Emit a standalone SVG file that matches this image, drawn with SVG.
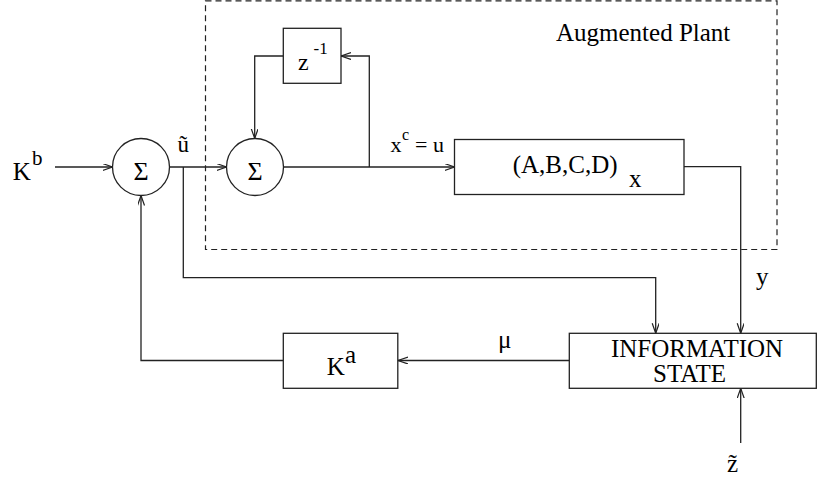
<svg xmlns="http://www.w3.org/2000/svg" width="818" height="478" viewBox="0 0 818 478">
<style>
.t{font-family:"Liberation Serif","Times New Roman",serif;fill:#000;font-size:25px}
.b{fill:#fff;stroke:#222;stroke-width:1.3}
.c{fill:none;stroke:#222;stroke-width:1.3}
.dash{fill:none;stroke:#222;stroke-width:1.2;stroke-dasharray:6 4}
</style>
<defs>
<marker id="ar" markerWidth="12" markerHeight="9" refX="10" refY="3.5" orient="auto" markerUnits="userSpaceOnUse">
<path d="M0,0 L10,3.5 L0,7" fill="none" stroke="#222" stroke-width="1.2"/>
</marker>
</defs>
<rect width="818" height="478" fill="#fff"/>
<g id="augmented-plant">
<rect class="dash" x="205.5" y="0.8" width="571.5" height="248.7"/>
<text class="t" x="556" y="41">Augmented Plant</text>
</g>
<g id="connectors" class="c" marker-end="url(#ar)">
<path d="M55,167 H112.5"/>
<path d="M169.5,167 H226.5"/>
<path d="M183.3,167 V277.7 H655.7 V333.3"/>
<path d="M283.5,167 H454.5"/>
<path d="M369.3,167 V56 H341"/>
<path d="M283.3,56 H254.7 V138.5"/>
<path d="M684,166.7 H740.7 V333.3"/>
<path d="M569.3,360.5 H398"/>
<path d="M283.3,360.5 H141 V195.5"/>
<path d="M740.7,443 V388.3"/>
</g>
<g id="kb-input">
<text class="t" x="12.7" y="180">K</text>
<text class="t" x="32" y="165" style="font-size:21px">b</text>
</g>
<g id="sum1">
<circle class="b" cx="141" cy="167" r="28.5"/>
<text class="t" x="141" y="180" text-anchor="middle" style="font-size:26px">Σ</text>
</g>
<g id="u-tilde-label">
<text class="t" x="177.5" y="152" style="font-size:23px">ũ</text>
</g>
<g id="sum2">
<circle class="b" cx="255" cy="167" r="28.5"/>
<text class="t" x="255" y="180" text-anchor="middle" style="font-size:26px">Σ</text>
</g>
<g id="delay">
<rect class="b" x="283.3" y="28.3" width="57.7" height="55"/>
<text class="t" x="298" y="70" style="font-size:24px">z</text>
<text class="t" x="313.5" y="53.5" style="font-size:17px">-1</text>
</g>
<g id="xc-label">
<text class="t" x="390.5" y="152" style="font-size:22px">x</text>
<text class="t" x="402" y="140" style="font-size:16px">c</text>
<text class="t" x="415" y="152" style="font-size:22px">= u</text>
</g>
<g id="plant">
<rect class="b" x="454.5" y="139.5" width="229.5" height="55"/>
<text class="t" x="512.7" y="172.5">(A,B,C,D)</text>
<text class="t" x="629" y="187">x</text>
</g>
<g id="y-label">
<text class="t" x="756" y="285">y</text>
</g>
<g id="info-state">
<rect class="b" x="569.3" y="333.3" width="247" height="55"/>
<text class="t" x="697" y="356.7" text-anchor="middle">INFORMATION</text>
<text class="t" x="689.5" y="381.7" text-anchor="middle">STATE</text>
</g>
<g id="mu-label">
<text class="t" x="498" y="348">μ</text>
</g>
<g id="ka">
<rect class="b" x="283.3" y="333.3" width="114.5" height="55"/>
<text class="t" x="326.7" y="375">K</text>
<text class="t" x="345" y="363">a</text>
</g>
<g id="z-tilde-label">
<text class="t" x="727" y="472">z̃</text>
</g>
</svg>
